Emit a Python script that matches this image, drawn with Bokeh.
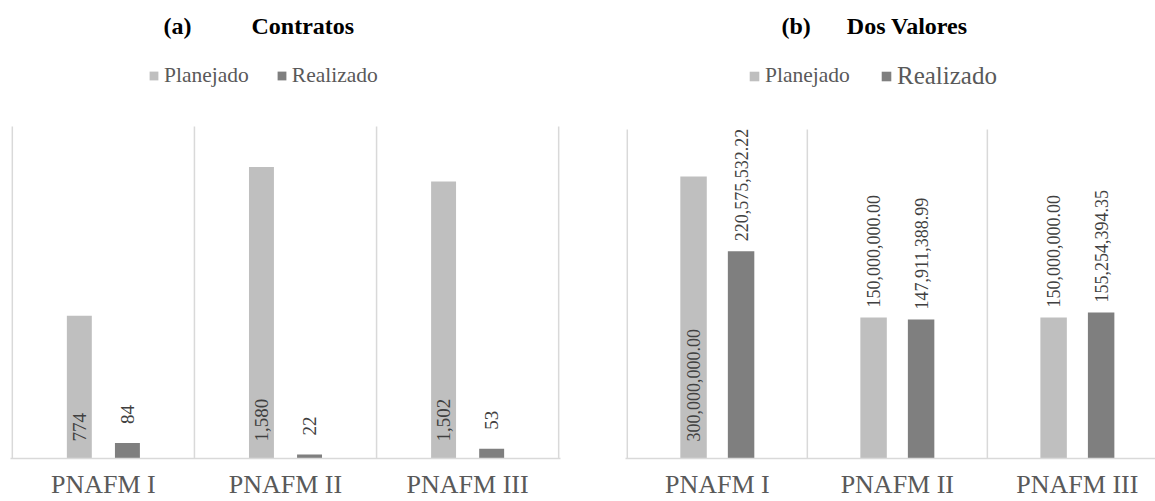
import numpy as np
from bokeh.plotting import figure
from bokeh.models import Range1d, FixedTicker, Legend, LegendItem, Label
from bokeh.layouts import row
from bokeh.embed import file_html
from bokeh.resources import INLINE
from bokeh.core.properties import value

# ---------------- data ----------------
categories = ["PNAFM I", "PNAFM II", "PNAFM III"]
series_names = ["Planejado", "Realizado"]

contratos_planejado = [774, 1580, 1502]
contratos_realizado = [84, 22, 53]

valores_planejado = [300000000.00, 150000000.00, 150000000.00]
valores_realizado = [220575532.22, 147911388.99, 155254394.35]

# where each data label sits (True = inside the base of the bar)
contratos_planejado_inside = [True, True, True]
contratos_realizado_inside = [False, False, False]
valores_planejado_inside = [True, False, False]
valores_realizado_inside = [False, False, False]

# ---------------- style ----------------
FONT = "Liberation Serif"
C_PLAN = "#BFBFBF"
C_REAL = "#7F7F7F"
GRID = "#D9D9D9"
TXT = "#595959"
LBL = "#404040"
HEIGHT = 501


def make_panel(tag, name, n_spaces, plan, real, plan_in, real_in, fmt, ymax,
               width, x_end, mb_left, mb_right, mb_bottom, standoff,
               area_top, title_left, legend_specs, label_size, gap, bar_w):
    frame_h = HEIGHT - mb_bottom
    y_top = ymax * frame_h / (frame_h - area_top)
    p = figure(width=width, height=HEIGHT, x_range=Range1d(-0.01, x_end),
               y_range=Range1d(0, y_top), output_backend="svg",
               toolbar_location=None, title_location=None,
               y_axis_location=None)
    p.min_border = 0
    p.min_border_left = mb_left
    p.min_border_right = mb_right
    p.min_border_top = 0
    p.min_border_bottom = mb_bottom
    p.outline_line_color = None
    p.background_fill_color = "white"
    p.border_fill_color = "white"
    p.xgrid.visible = False
    p.ygrid.visible = False

    n = len(categories)
    xs = np.arange(n) + 0.5
    bounds = np.arange(n + 1)

    # category separators (plot-area gridlines)
    p.segment(x0=bounds, y0=[0] * (n + 1), x1=bounds, y1=[ymax] * (n + 1),
              line_color=GRID, line_width=1.5)

    off = 0.132
    r_plan = p.vbar(x=xs - off, top=plan, width=bar_w, fill_color=C_PLAN,
                    line_color=None)
    r_real = p.vbar(x=xs + off, top=real, width=bar_w, fill_color=C_REAL,
                    line_color=None)

    # data labels
    for xx, vals, inside in ((xs - off, plan, plan_in), (xs + off, real, real_in)):
        for xi, v, ins in zip(xx, vals, inside):
            p.text(x=[xi], y=[0 if ins else v], text=[fmt(v)], angle=np.pi / 2,
                   text_align="left", text_baseline="middle",
                   y_offset=-17 if ins else -gap,
                   text_font=value(FONT), text_font_size=label_size,
                   text_color=LBL)

    ax = p.xaxis[0]
    ax.ticker = FixedTicker(ticks=list(xs))
    ax.major_label_overrides = {float(x): c for x, c in zip(xs, categories)}
    ax.major_tick_line_color = None
    ax.minor_tick_line_color = None
    ax.major_tick_out = 0
    ax.major_tick_in = 0
    ax.minor_tick_out = 0
    ax.minor_tick_in = 0
    ax.axis_label_standoff = 0
    ax.axis_line_color = GRID
    ax.axis_line_width = 1.5
    ax.major_label_text_font = FONT
    ax.major_label_text_font_size = "26px"
    ax.major_label_text_color = TXT
    ax.major_label_standoff = standoff

    renderers = {series_names[0]: r_plan, series_names[1]: r_real}
    for names, size, left, glyph, spacing in legend_specs:
        h = 1.13 * float(size.replace("px", ""))
        legend = Legend(items=[LegendItem(label=value(nm), renderers=[renderers[nm]])
                               for nm in names],
                        orientation="horizontal",
                        location=(left, frame_h - 76 - h / 2),
                        label_text_font=FONT, label_text_font_size=size,
                        label_text_color=TXT, glyph_width=glyph,
                        glyph_height=glyph, label_standoff=5, spacing=spacing,
                        border_line_color=None, background_fill_alpha=0,
                        margin=0, padding=0)
        p.add_layout(legend)

    p.add_layout(Label(x=title_left, y=frame_h - 25, x_units="screen",
                       y_units="screen",
                       text=tag + "\u00a0" * n_spaces + name,
                       text_align="left", text_baseline="alphabetic",
                       text_font=FONT, text_font_size="24px",
                       text_font_style="bold", text_color="black"))
    return p


p1 = make_panel("(a)", "Contratos", 10, contratos_planejado, contratos_realizado,
                contratos_planejado_inside, contratos_realizado_inside,
                lambda v: f"{v:,}", 1800,
                600, 3.01, 10, 40, 43, 11, 126, 153,
                [(series_names, "21.5px", 138, 11, 27)],
                "19px", 19, 0.137)

p2 = make_panel("(b)", "Dos Valores", 6, valores_planejado, valores_realizado,
                valores_planejado_inside, valores_realizado_inside,
                lambda v: f"{v:,.2f}", 350000000,
                555, 2.934, 25, 0, 43, 11, 129, 156,
                [([series_names[0]], "21.5px", 123, 12, 0),
                 ([series_names[1]], "25px", 255, 12, 0)],
                "18px", 10, 0.147)

layout = row(p1, p2)
open("out.html", "w").write(file_html(layout, INLINE))
